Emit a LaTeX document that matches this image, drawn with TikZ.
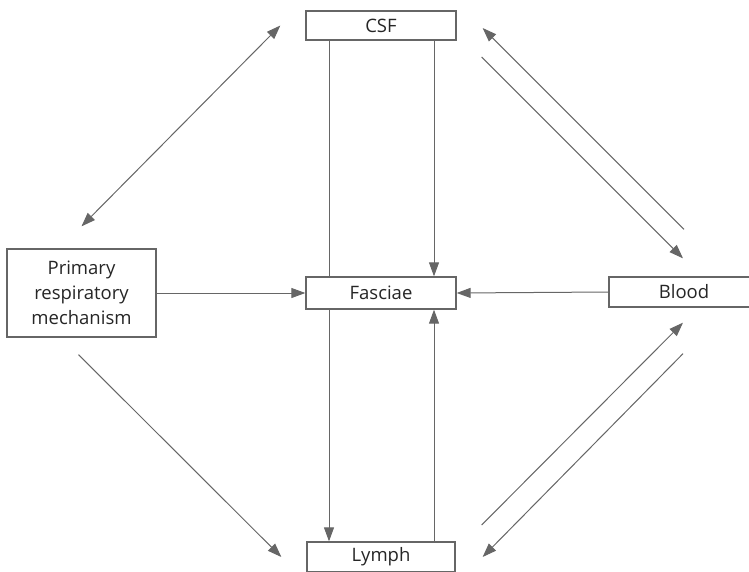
\documentclass[tikz,border=0pt]{standalone}
\usepackage{fontspec}
\setmainfont{Open Sans}
\usepackage{tikz}
\usetikzlibrary{arrows.meta}
\definecolor{flowgrey}{HTML}{666666}
\definecolor{flowtext}{HTML}{262626}

\begin{document}
\begin{tikzpicture}[x=1pt,y=-1pt,
  tissue/.style={draw=flowgrey,line width=1.3pt,fill=white,text=flowtext,inner sep=0,
    minimum width=150pt,minimum height=30pt,font=\fontsize{18.5}{25}\selectfont},
  flow/.style={draw=flowgrey,line width=1pt,-{Triangle[length=14pt,width=10pt]}},
  bothflow/.style={flow,{Triangle[length=14pt,width=10pt]}-{Triangle[length=14pt,width=10pt]}}]
  \clip (0,0) rectangle (749,571);
  \useasboundingbox (0,0) rectangle (749,571);
  % the five boxes
  \node[tissue,minimum height=29pt] (csf) at (381,25.5) {CSF};
  \node[tissue,minimum height=32pt] (fasc) at (381,293) {Fasciae};
  \node[tissue] (blood) at (684,292) {Blood};
  \node[tissue,minimum width=148pt] (lymph) at (381,557) {Lymph};
  \node[tissue,minimum width=149pt,minimum height=88pt,align=center] (prm) at (81.5,293)
    {Primary\\respiratory\\mechanism};
  % vertical links
  \draw[draw=flowgrey,line width=1pt] ([xshift=-52pt]csf.south) -- ([xshift=-52pt]fasc.north);
  \draw[flow] ([xshift=53pt]csf.south) -- ([xshift=53pt]fasc.north);
  \draw[flow] ([xshift=-52pt]fasc.south) -- ([xshift=-52pt]lymph.north);
  \draw[flow] ([xshift=53pt]lymph.north) -- ([xshift=53pt]fasc.south);
  % horizontal links
  \draw[flow] (prm.east) -- (fasc.west);
  \draw[flow] (blood.west) -- (fasc.east);
  % diagonal links
  \draw[bothflow] ([yshift=22pt]prm.north) -- ([xshift=-25pt]csf.west);
  \draw[flow] ([xshift=-3pt,yshift=-17pt]prm.south) -- ([xshift=-25pt]lymph.west);
  \draw[flow] ([yshift=47pt]blood.north) -- ([xshift=26pt,yshift=-2.5pt]csf.east);
  \draw[flow] ([xshift=25pt,yshift=-31.5pt]csf.east) -- ([xshift=-1pt,yshift=18pt]blood.north);
  \draw[flow] ([xshift=26pt,yshift=32pt]lymph.east) -- ([xshift=-1pt,yshift=-15pt]blood.south);
  \draw[flow] ([xshift=-1pt,yshift=-46pt]blood.south) -- ([xshift=27pt]lymph.east);
\end{tikzpicture}
\end{document}
